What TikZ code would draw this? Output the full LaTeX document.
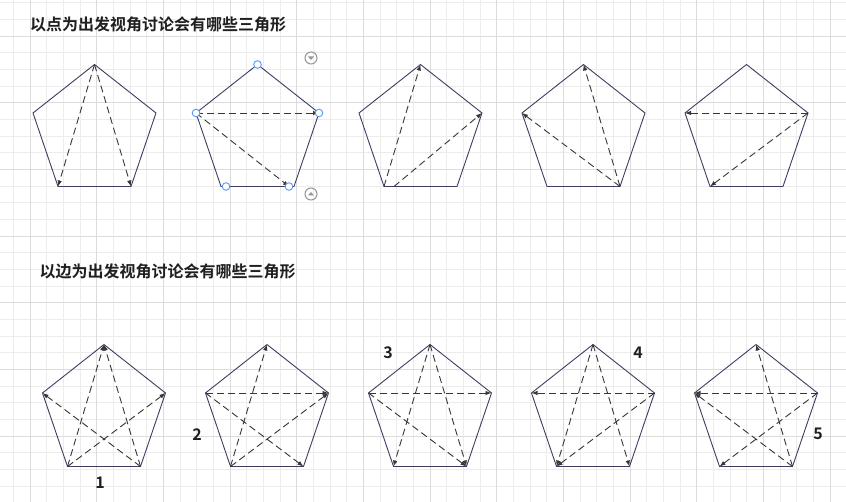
\documentclass[tikz,border=0pt]{standalone}
\usepackage{fontspec}
\newfontfamily\cjk{Noto Sans CJK SC}[BoldFont={Noto Sans CJK SC Bold}]
\usetikzlibrary{arrows.meta}
\definecolor{gridminor}{RGB}{236,236,236}
\definecolor{gridmajor}{RGB}{220,220,220}
\definecolor{edgecol}{RGB}{62,62,98}
\definecolor{diagcol}{RGB}{55,55,55}
\definecolor{handlecol}{RGB}{90,155,250}
\definecolor{btncol}{RGB}{150,150,150}
\newcommand{\penta}[3]{%
  \coordinate (#1t) at (#2,#3);
  \coordinate (#1l) at (#2-61.5,#3+48.5);
  \coordinate (#1r) at (#2+61.5,#3+48.5);
  \coordinate (#1bl) at (#2-36.5,#3+122);
  \coordinate (#1br) at (#2+36.5,#3+122);
  \draw[pent] (#1t) -- (#1r) -- (#1br) -- (#1bl) -- (#1l) -- cycle;
}

\begin{document}
\begin{tikzpicture}[x=1pt,y=-1pt,
	pent/.style={color=edgecol,line width=0.9pt},
	diag/.style={color=diagcol,line width=0.9pt,dash pattern=on 7pt off 4pt,-{Latex[length=6pt,width=4.5pt]}},
	title/.style={font=\cjk\bfseries\fontsize{16}{16}\selectfont,text=black!88,anchor=west,inner sep=0pt},
	num/.style={font=\cjk\bfseries\fontsize{16}{16}\selectfont,text=black!88,inner sep=0pt},
	handle/.style={draw=handlecol,fill=white,line width=0.9pt},
	btn/.style={draw=btncol,line width=1pt}]
	\useasboundingbox (0,0) rectangle (846,502);
	\fill[white] (0,0) rectangle (846,502);
	\foreach \i in {0,...,50} \draw[gridminor,line width=0.8pt] ({13.33+\i*16.667},0) -- ++(0,502);
	\foreach \i in {0,...,30} \draw[gridminor,line width=0.8pt] (0,{2.67+\i*16.667}) -- ++(846,0);
	\foreach \i in {0,...,12} \draw[gridmajor,line width=0.9pt] ({30+\i*66.667},0) -- ++(0,502);
	\foreach \i in {0,...,7} \draw[gridmajor,line width=0.9pt] (0,{36+\i*66.667}) -- ++(846,0);

	\node[title] (t1) at (30,24) {以点为出发视角讨论会有哪些三角形};
	\node[title] (t2) at (39.5,271) {以边为出发视角讨论会有哪些三角形};

	\penta{a1}{94.5}{64.5}
	\penta{a2}{257.5}{64.5}
	\penta{a3}{420.5}{64.5}
	\penta{a4}{583.5}{64.5}
	\penta{a5}{746.5}{64.5}
	\penta{b1}{104}{344.5}
	\penta{b2}{267}{344.5}
	\penta{b3}{430}{344.5}
	\penta{b4}{593}{344.5}
	\penta{b5}{756}{344.5}

	\draw[diag] (a1t) -- (a1bl);
	\draw[diag] (a1t) -- (a1br);
	\coordinate (a2hl) at ([xshift=5pt]a2bl);
	\coordinate (a2hr) at ([xshift=-5pt]a2br);
	\draw[diag] (a2l) -- (a2r);
	\draw[diag] (a2l) -- (a2hr);
	\draw[diag] (a3bl) -- (a3t);
	\coordinate (a3s) at ([xshift=10pt]a3bl);
	\draw[diag] (a3s) -- (a3r);
	\draw[diag] (a4br) -- (a4t);
	\draw[diag] (a4br) -- (a4l);
	\draw[diag] (a5r) -- (a5l);
	\draw[diag] (a5r) -- (a5bl);
	\foreach \p in {a2t,a2l,a2r,a2hl,a2hr} \draw[handle] (\p) circle (3.8);
	\node[btn,circle,minimum size=12pt,inner sep=0pt] (up) at (311,58) {};
	\fill[btncol] ([shift={(-3,-1.5)}]up.center) -- ++(6,0) -- ++(-3,3.5) -- cycle;
	\node[btn,circle,minimum size=12pt,inner sep=0pt] (dn) at (311,194) {};
	\fill[btncol] ([shift={(-3,1.5)}]dn.center) -- ++(6,0) -- ++(-3,-3.5) -- cycle;

	\draw[diag] (b1bl) -- (b1t);
	\draw[diag] (b1bl) -- (b1r);
	\draw[diag] (b1br) -- (b1t);
	\draw[diag] (b1br) -- (b1l);
	\draw[diag] (b2l) -- (b2r);
	\draw[diag] (b2l) -- (b2br);
	\draw[diag] (b2bl) -- (b2t);
	\draw[diag] (b2bl) -- (b2r);
	\draw[diag] (b3t) -- (b3bl);
	\draw[diag] (b3t) -- (b3br);
	\draw[diag] (b3l) -- (b3r);
	\draw[diag] (b3l) -- (b3br);
	\draw[diag] (b4t) -- (b4bl);
	\draw[diag] (b4t) -- (b4br);
	\draw[diag] (b4r) -- (b4l);
	\draw[diag] (b4r) -- (b4bl);
	\draw[diag] (b5br) -- (b5t);
	\draw[diag] (b5br) -- (b5l);
	\draw[diag] (b5r) -- (b5l);
	\draw[diag] (b5r) -- (b5bl);

	\node[num] (n1) at (100,483) {1};
	\node[num] (n2) at (197,435) {2};
	\node[num] (n3) at (388,353) {3};
	\node[num] (n4) at (638,353) {4};
	\node[num] (n5) at (818,434) {5};
\end{tikzpicture}
\end{document}
